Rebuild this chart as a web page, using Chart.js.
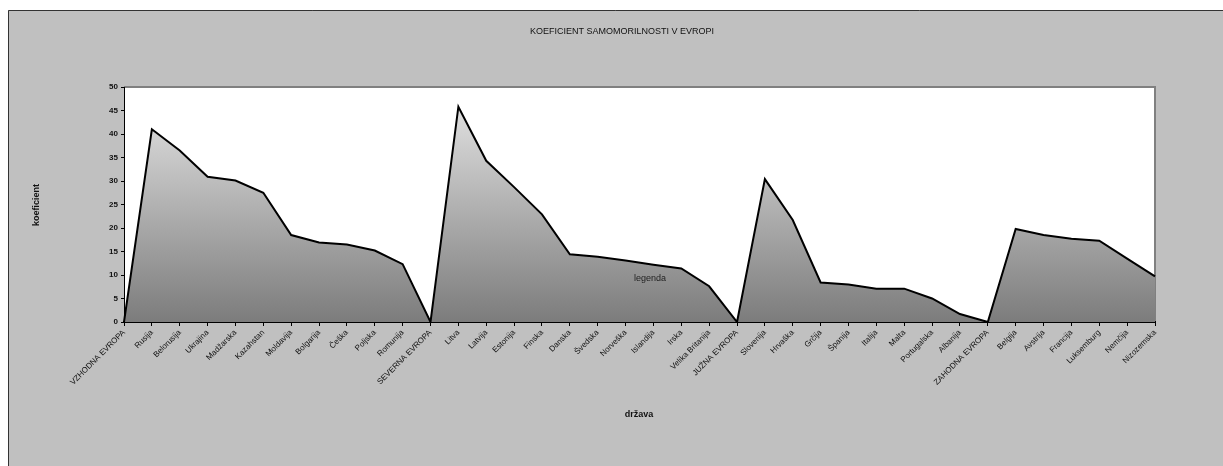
<!DOCTYPE html>
<html>
<head>
<meta charset="utf-8">
<script src="https://cdn.jsdelivr.net/npm/chart.js@4/dist/chart.umd.min.js"></script>
<style>
  body { margin: 0; background: #fff; }
  canvas { display: block; }
</style>
</head>
<body>
<canvas id="myChart" width="1223" height="466"></canvas>
<script>
// categories (države / regije)
const drzave = [
  "VZHODNA EVROPA", "Rusija", "Belorusija", "Ukrajina", "Madžarska", "Kazahstan",
  "Moldavija", "Bolgarija", "Češka", "Poljska", "Romunija",
  "SEVERNA EVROPA", "Litva", "Latvija", "Estonija", "Finska", "Danska", "Švedska",
  "Norveška", "Islandija", "Irska", "Velika Britanija",
  "JUŽNA EVROPA", "Slovenija", "Hrvaška", "Grčija", "Španija", "Italija", "Malta",
  "Portugalska", "Albanija",
  "ZAHODNA EVROPA", "Belgija", "Avstrija", "Francija", "Luksemburg", "Nemčija", "Nizozemska"
];

// koeficient samomorilnosti
const koeficient = [
  0, 41.0, 36.5, 30.9, 30.1, 27.5, 18.5, 16.9, 16.5, 15.2, 12.3,
  0, 45.8, 34.3, 28.7, 22.9, 14.4, 13.9, 13.1, 12.2, 11.4, 7.6,
  0, 30.4, 21.7, 8.4, 8.0, 7.1, 7.1, 5.0, 1.7,
  0, 19.8, 18.5, 17.7, 17.3, 13.5, 9.7
];

const yTicks = [0, 5, 10, 15, 20, 25, 30, 35, 40, 45, 50];

const chartTitle = "KOEFICIENT SAMOMORILNOSTI V EVROPI";
const yTitle = "koeficient";
const xTitle = "država";
const legendText = "legenda";

const FONT = "'Liberation Sans', Arial, sans-serif";

// Background, frame and free texts
const decorPlugin = {
  id: "decor",
  beforeDraw(chart) {
    const ctx = chart.ctx;
    const a = chart.chartArea;
    ctx.save();
    ctx.fillStyle = "#ffffff";
    ctx.fillRect(0, 0, chart.width, chart.height);
    ctx.fillStyle = "#c0c0c0";
    ctx.fillRect(8, 10, chart.width - 8, chart.height - 10);
    ctx.strokeStyle = "#333333";
    ctx.lineWidth = 1;
    ctx.beginPath();
    ctx.moveTo(8.5, chart.height);
    ctx.lineTo(8.5, 10.5);
    ctx.lineTo(chart.width, 10.5);
    ctx.stroke();
    // plot area
    ctx.fillStyle = "#ffffff";
    ctx.fillRect(a.left, a.top, a.right - a.left, a.bottom - a.top);
    ctx.strokeStyle = "#808080";
    ctx.lineWidth = 2;
    ctx.beginPath();
    ctx.moveTo(a.left, a.top);
    ctx.lineTo(a.right, a.top);
    ctx.lineTo(a.right, a.bottom);
    ctx.stroke();
    ctx.restore();
  },
  afterDraw(chart) {
    const ctx = chart.ctx;
    ctx.save();
    ctx.fillStyle = "#111111";
    ctx.textAlign = "center";
    ctx.textBaseline = "middle";
    ctx.font = "9px " + FONT;
    ctx.fillText(chartTitle, 622, 32);
    ctx.font = "bold 9px " + FONT;
    ctx.fillText(xTitle, 639, 415);
    ctx.save();
    ctx.translate(37, 205);
    ctx.rotate(-Math.PI / 2);
    ctx.fillText(yTitle, 0, 0);
    ctx.restore();
    ctx.font = "9px " + FONT;
    ctx.fillStyle = "#222222";
    ctx.fillText(legendText, 650, 279);
    ctx.restore();
  }
};

const ctx = document.getElementById("myChart").getContext("2d");

const myChart = new Chart(ctx, {
  type: "line",
  data: {
    labels: drzave,
    datasets: [
      {
        label: legendText,
        data: koeficient,
        fill: "origin",
        borderColor: "#000000",
        borderWidth: 2,
        pointRadius: 0,
        tension: 0,
        backgroundColor: function (context) {
          const area = context.chart.chartArea;
          if (!area) return "#a0a0a0";
          const g = context.chart.ctx.createLinearGradient(0, area.top, 0, area.bottom);
          g.addColorStop(0, "#e8e8e8");
          g.addColorStop(1, "#7c7c7c");
          return g;
        },
      },
    ],
  },
  options: {
    responsive: false,
    animation: false,
    layout: { padding: { left: 0, right: 68, top: 87, bottom: 0 } },
    plugins: {
      legend: { display: false },
      title: { display: false },
      tooltip: { enabled: false },
    },
    scales: {
      x: {
        type: "category",
        offset: false,
        afterFit(scale) { scale.height = 144; },
        border: { display: true, color: "#000000", width: 2 },
        grid: { display: true, drawOnChartArea: false, drawTicks: true, tickLength: 4, color: "#000000" },
        ticks: {
          autoSkip: false,
          minRotation: 45,
          maxRotation: 45,
          padding: 2,
          color: "#111111",
          font: { family: FONT, size: 8 },
        },
      },
      y: {
        min: 0,
        max: 50,
        afterFit(scale) { scale.width = 124; },
        afterBuildTicks(scale) {
          scale.ticks = yTicks.map((v) => ({ value: v }));
        },
        border: { display: true, color: "#000000", width: 1 },
        grid: { display: true, drawOnChartArea: false, drawTicks: true, tickLength: 3, color: "#000000" },
        ticks: {
          padding: 3,
          color: "#111111",
          font: { family: FONT, size: 8, weight: "bold" },
        },
      },
    },
  },
  plugins: [decorPlugin],
});
</script>
</body>
</html>
